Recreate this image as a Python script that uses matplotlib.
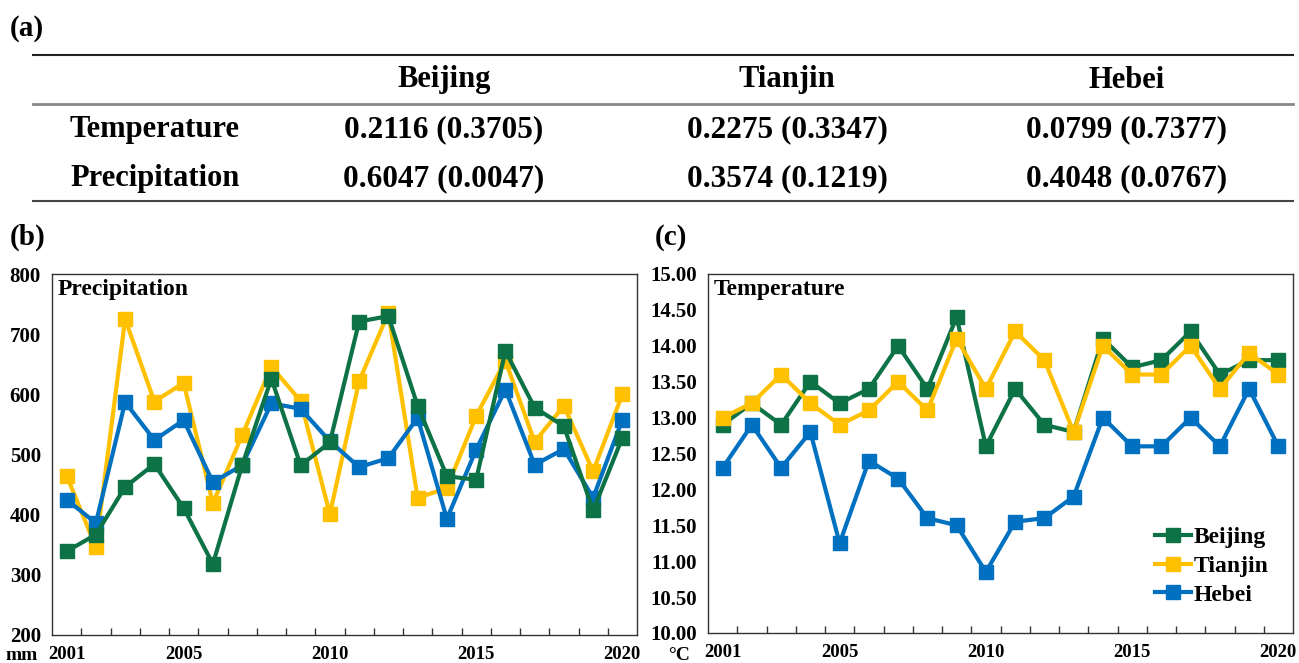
import matplotlib.pyplot as plt
from matplotlib.lines import Line2D

plt.rcParams['font.family'] = ['Liberation Serif', 'DejaVu Serif']
plt.rcParams['font.weight'] = 'bold'

years = list(range(2001, 2021))
year_labels = ['2001', '2005', '2010', '2015', '2020']

# precipitation, mm
pre_beijing = [339, 367, 446, 484, 411, 318, 482, 626, 482, 520,
               721, 730, 581, 464, 458, 672, 578, 547, 407, 528]
pre_tianjin = [465, 346, 725, 588, 619, 419, 532, 646, 589, 401,
               622, 735, 428, 444, 564, 656, 521, 581, 472, 600]
pre_hebei = [425, 386, 587, 524, 557, 454, 482, 585, 576, 522,
             479, 494, 561, 393, 508, 608, 483, 509, 428, 558]

# temperature, degC
tem_beijing = [12.9, 13.2, 12.9, 13.5, 13.2, 13.4, 14.0, 13.4, 14.4, 12.6,
               13.4, 12.9, 12.8, 14.1, 13.7, 13.8, 14.2, 13.6, 13.8, 13.8]
tem_tianjin = [13.0, 13.2, 13.6, 13.2, 12.9, 13.1, 13.5, 13.1, 14.1, 13.4,
               14.2, 13.8, 12.8, 14.0, 13.6, 13.6, 14.0, 13.4, 13.9, 13.6]
tem_hebei = [12.3, 12.9, 12.3, 12.8, 11.25, 12.4, 12.15, 11.6, 11.5, 10.85,
             11.55, 11.6, 11.9, 13.0, 12.6, 12.6, 13.0, 12.6, 13.4, 12.6]

regions = ['Beijing', 'Tianjin', 'Hebei']
row_names = ['Temperature', 'Precipitation']
table_vals = [['0.2116 (0.3705)', '0.2275 (0.3347)', '0.0799 (0.7377)'],
              ['0.6047 (0.0047)', '0.3574 (0.1219)', '0.4048 (0.0767)']]

colors = {'Beijing': '#0E7247', 'Tianjin': '#FFC000', 'Hebei': '#0070C0'}

W, H = 1299, 663
fig = plt.figure(figsize=(W / 100, H / 100), dpi=100)


def fx(px):
    return px / W


def fy(py):
    return 1 - py / H


# ---- (a) table ----
fig.text(fx(10), fy(28), '(a)', fontsize=21, va='center', ha='left')
fig.add_artist(Line2D([fx(33), fx(1293)], [fy(55), fy(55)], color='#222222', lw=1.5))
fig.add_artist(Line2D([fx(33), fx(1293)], [fy(104), fy(104)], color='#888888', lw=2))
fig.add_artist(Line2D([fx(33), fx(1293)], [fy(201), fy(201)], color='#444444', lw=1.5))
col_x = [444, 787, 1127]
for name, cx in zip(regions, col_x):
    fig.text(fx(cx), fy(80), name, fontsize=22, ha='center', va='center')
for i, rn in enumerate(row_names):
    ry = [130, 179][i]
    fig.text(fx(155), fy(ry), rn, fontsize=22, ha='center', va='center')
    for j, cx in enumerate(col_x):
        fig.text(fx(cx), fy(ry), table_vals[i][j], fontsize=22.5, ha='center', va='center')


def line_panel(ax, series, ylim, yticks, fmt, title):
    x = list(range(len(years)))
    for name, vals in series:
        ax.plot(x, vals, color=colors[name], lw=3, marker='s', ms=10, label=name)
    ax.set_xlim(-0.5, len(years) - 0.5)
    ax.set_ylim(*ylim)
    ax.set_yticks(yticks)
    ax.set_yticklabels([fmt.format(v) for v in yticks])
    ax.set_xticks([years.index(int(y)) for y in year_labels])
    ax.set_xticklabels(year_labels)
    ax.set_xticks([i + 0.5 for i in range(len(years) - 1)], minor=True)
    ax.tick_params(axis='x', which='major', length=0, pad=8, labelsize=13.5)
    ax.tick_params(axis='x', which='minor', direction='in', length=5, width=1, color='#333333')
    ax.tick_params(axis='y', length=0, pad=8, labelsize=15)
    for s in ax.spines.values():
        s.set_color('#333333')
        s.set_linewidth(1)
    ax.text(0.009, 0.985, title, transform=ax.transAxes, fontsize=17, va='top', ha='left')


# ---- (b) precipitation ----
fig.text(fx(10), fy(237), '(b)', fontsize=21, va='center', ha='left')
ax1 = fig.add_axes([fx(52), fy(635), fx(637) - fx(52), fy(274) - fy(635)])
line_panel(ax1, [('Tianjin', pre_tianjin), ('Hebei', pre_hebei), ('Beijing', pre_beijing)],
           (200, 800), list(range(200, 801, 100)), '{:.0f}', 'Precipitation')
fig.text(fx(6), fy(655), 'mm', fontsize=14, va='center', ha='left')

# ---- (c) temperature ----
fig.text(fx(655), fy(237), '(c)', fontsize=21, va='center', ha='left')
ax2 = fig.add_axes([fx(708), fy(633), fx(1293) - fx(708), fy(274) - fy(633)])
line_panel(ax2, [('Beijing', tem_beijing), ('Tianjin', tem_tianjin), ('Hebei', tem_hebei)],
           (10, 15), [10 + 0.5 * i for i in range(11)], '{:.2f}', 'Temperature')
fig.text(fx(668), fy(655), '°C', fontsize=14, va='center', ha='left')
handles, labels = ax2.get_legend_handles_labels()
ax2.legend(handles, labels, loc='lower right', frameon=False, fontsize=17,
           handlelength=1.5, handletextpad=0.15, labelspacing=0.3,
           borderaxespad=0, bbox_to_anchor=(0.975, 0.05))

fig.savefig('out.png', dpi=100)
